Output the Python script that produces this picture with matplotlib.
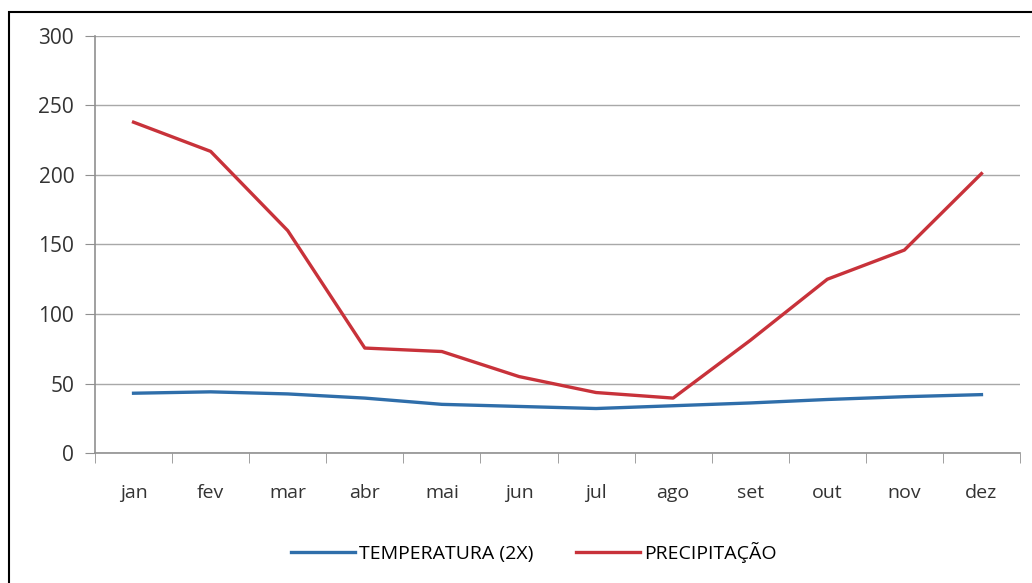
import matplotlib.pyplot as plt
import numpy as np
from matplotlib.patches import Rectangle

months = ['jan', 'fev', 'mar', 'abr', 'mai', 'jun', 'jul', 'ago', 'set', 'out', 'nov', 'dez']
temperatura = [43, 44, 42.5, 39.5, 35, 33.5, 32, 34, 36, 38.5, 40.5, 42]
precipitacao = [238, 217, 160, 75.5, 73, 55, 43.5, 39.5, 81, 125, 146, 201]

plt.rcParams['font.family'] = ['Liberation Sans Narrow', 'Open Sans', 'DejaVu Sans']

fig = plt.figure(figsize=(10.32, 5.83), dpi=100)
ax = fig.add_axes([95/1032, 1-453/583, 925/1032, 417/583])

# outer frame of the original image
fig.patches.append(Rectangle((9/1032, -0.1), 1.2, 1.1 - 12/583, transform=fig.transFigure,
                             fill=False, edgecolor='black', linewidth=1.5))

x = np.arange(len(months))
ax.plot(x, temperatura, color='#2f6eaa', linewidth=2.4, label='TEMPERATURA (2X)', zorder=3)
ax.plot(x, precipitacao, color='#c8323a', linewidth=2.4, label='PRECIPITAÇÃO', zorder=3)

ax.set_xlim(-0.5, 11.5)
ax.set_ylim(0, 300)
ax.set_yticks(np.arange(0, 301, 50))
ax.yaxis.grid(True, color='#a8a8a8', linewidth=1)
ax.set_axisbelow(True)

ax.set_xticks(x)
ax.set_xticklabels(months)
ax.set_xticks(np.arange(-0.5, 12, 1), minor=True)
ax.tick_params(axis='x', which='major', length=0, pad=22, labelsize=14, labelcolor='#333333')
ax.tick_params(axis='x', which='minor', length=7, color='#909090', direction='out')
ax.tick_params(axis='y', length=7, color='#909090', pad=8, labelsize=15, labelcolor='#333333')

for s in ['top', 'right']:
    ax.spines[s].set_visible(False)
for s in ['left', 'bottom']:
    ax.spines[s].set_color('#909090')
    ax.spines[s].set_linewidth(1.2)

fig.legend(loc='center', bbox_to_anchor=(534/1032, 1-552/583), ncol=2, frameon=False,
           fontsize=14, handlelength=3.3, columnspacing=2.2, handletextpad=0.2)

fig.savefig('out.png', dpi=100)
